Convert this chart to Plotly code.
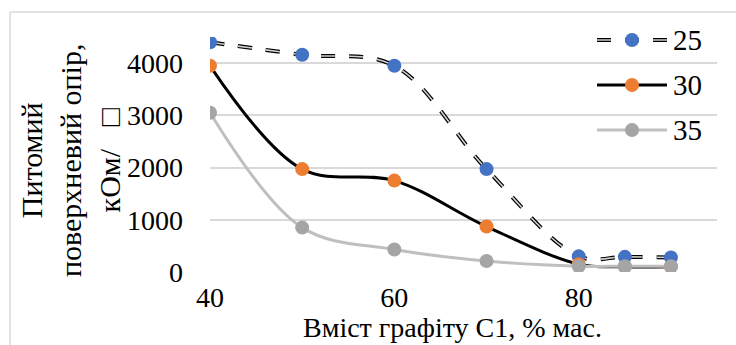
import plotly.graph_objects as go

# Graphite content, % mass
graphite = [40, 50, 60, 70, 80, 85, 90]
# Specific surface resistance, kOhm/sq, for three series
r25 = [4400, 4160, 3950, 1970, 300, 290, 280]
r30 = [3950, 1970, 1750, 870, 150, 100, 100]
r35 = [3050, 850, 430, 210, 110, 110, 110]
series_names = ["25", "30", "35"]

W, H = 736, 345
ML, MR, MT, MB = 210, 19, 37, 73
PW, PH = W - ML - MR, H - MT - MB

FONT = "'Times New Roman', 'Liberation Serif', 'DejaVu Serif', serif"
BLUE, ORANGE, GREY_M, GREY_L = "#4472C4", "#ED7D31", "#A5A5A5", "#BFBFBF"


def px(x):
    return (x - ML) / PW


def py(y):
    return (H - MB - y) / PH


fig = go.Figure()

# series 25: outlined dashed line (dark dash with a light core) + markers
fig.add_trace(go.Scatter(x=graphite, y=r25, mode="lines",
                         line=dict(color="black", width=4, dash="14px,14px", shape="spline"),
                         hoverinfo="skip", showlegend=False))
fig.add_trace(go.Scatter(x=graphite, y=r25, mode="lines+markers", name=series_names[0],
                         line=dict(color="#D0D0D0", width=1.6, dash="14px,14px", shape="spline"),
                         marker=dict(color=BLUE, size=14, line=dict(width=0)),
                         showlegend=False))
fig.add_trace(go.Scatter(x=graphite, y=r30, mode="lines+markers", name=series_names[1],
                         line=dict(color="black", width=3, shape="spline"),
                         marker=dict(color=ORANGE, size=14, line=dict(width=0)),
                         showlegend=False))
fig.add_trace(go.Scatter(x=graphite, y=r35, mode="lines+markers", name=series_names[2],
                         line=dict(color=GREY_L, width=3, shape="spline"),
                         marker=dict(color=GREY_M, size=14, line=dict(width=0)),
                         showlegend=False))

shapes = []
annotations = []

# chart frame
shapes.append(dict(type="line", xref="paper", yref="paper", x0=px(10), x1=px(10), y0=py(12), y1=py(H + 5),
                   line=dict(color="#D9D9D9", width=1.5)))
shapes.append(dict(type="line", xref="paper", yref="paper", x0=px(10), x1=px(W + 5), y0=py(12), y1=py(12),
                   line=dict(color="#D9D9D9", width=1.5)))

# legend
leg_x0, leg_x1, leg_mx = 597, 667, 632
leg_rows = [40, 85, 130]
leg_styles = [
    [dict(color="black", width=4, dash="14px,14px"), dict(color="#D0D0D0", width=1.6, dash="14px,14px")],
    [dict(color="black", width=3)],
    [dict(color=GREY_L, width=3)],
]
leg_marker = [BLUE, ORANGE, GREY_M]
for name, yy, styles, mc in zip(series_names, leg_rows, leg_styles, leg_marker):
    for st in styles:
        shapes.append(dict(type="line", xref="paper", yref="paper",
                           x0=px(leg_x0), x1=px(leg_x1), y0=py(yy), y1=py(yy), line=st))
    shapes.append(dict(type="circle", xref="paper", yref="paper", xsizemode="pixel", ysizemode="pixel",
                       xanchor=px(leg_mx), yanchor=py(yy), x0=-7, x1=7, y0=-7, y1=7,
                       fillcolor=mc, line=dict(width=0)))
    annotations.append(dict(text=name, xref="paper", yref="paper", x=px(671), y=py(yy),
                            xanchor="left", yanchor="middle", showarrow=False,
                            font=dict(family=FONT, size=29, color="black")))

# axis titles
annotations.append(dict(text="Вміст графіту С1, % мас.", xref="paper", yref="paper",
                        x=px(452), y=py(345), xanchor="center", yanchor="bottom", showarrow=False,
                        font=dict(family=FONT, size=28, color="black")))
annotations.append(dict(text="Питомий<br>поверхневий опір,<br>кОм/\u00a0\u00a0\u00a0□", xref="paper", yref="paper",
                        x=px(70), y=py(161), xanchor="center", yanchor="middle", showarrow=False,
                        textangle=-90,
                        font=dict(family=FONT, size=30, color="black")))

fig.update_layout(
    width=W, height=H,
    margin=dict(l=ML, r=MR, t=MT, b=MB, autoexpand=False),
    paper_bgcolor="white", plot_bgcolor="white",
    font=dict(family=FONT, size=24, color="black"),
    shapes=shapes, annotations=annotations,
    showlegend=False,
)
fig.update_xaxes(range=[40, 95], tickvals=[40, 60, 80], showgrid=False, zeroline=False,
                 showline=False, ticks="", ticklabelstandoff=6,
                 tickfont=dict(family=FONT, size=28, color="black"))
fig.update_yaxes(range=[0, 4500], dtick=1000, showgrid=True, gridcolor="#D9D9D9", gridwidth=1.5,
                 zeroline=False, showline=False, ticks="", ticklabelstandoff=26,
                 tickfont=dict(family=FONT, size=28, color="black"))

fig.write_html("out.html")
